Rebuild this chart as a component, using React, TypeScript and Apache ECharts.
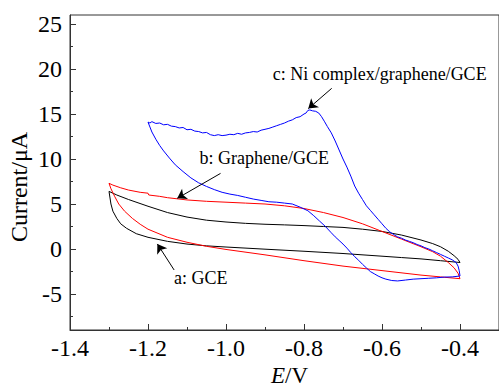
import { useEffect, useRef } from 'react';
import * as echarts from 'echarts';

// a: GCE (black) — forward branch then reverse branch, [E / V, I / µA]
const gceForward = [
  [-1.3, 6.4], [-1.28, 6.0], [-1.25, 5.5], [-1.2, 4.75], [-1.15, 4.05], [-1.1, 3.55], [-1.05, 3.2],
  [-1.0, 3.0], [-0.95, 2.85], [-0.9, 2.75], [-0.85, 2.68], [-0.8, 2.6], [-0.75, 2.5], [-0.7, 2.4],
  [-0.65, 2.2], [-0.6, 1.95], [-0.55, 1.55], [-0.5, 1.0], [-0.47, 0.6], [-0.45, 0.25], [-0.43, -0.25],
  [-0.415, -0.75], [-0.405, -1.15], [-0.4, -1.5],
];
const gceReverse = [
  [-0.4, -1.5], [-0.45, -1.3], [-0.5, -1.1], [-0.55, -0.95], [-0.6, -0.8], [-0.7, -0.5], [-0.8, -0.25],
  [-0.9, -0.02], [-1.0, 0.22], [-1.05, 0.35], [-1.1, 0.55], [-1.15, 0.85], [-1.2, 1.3], [-1.23, 1.7],
  [-1.255, 2.3], [-1.27, 2.8], [-1.28, 3.4], [-1.29, 4.2], [-1.295, 5.0], [-1.3, 6.4],
];

// b: Graphene/GCE (red)
const grapheneForward = [
  [-1.3, 7.3], [-1.29, 7.1], [-1.27, 6.8], [-1.25, 6.55], [-1.22, 6.3], [-1.2, 6.2], [-1.198, 6.0],
  [-1.17, 5.85], [-1.15, 5.7], [-1.1, 5.45], [-1.05, 5.3], [-1.0, 5.2], [-0.95, 5.1], [-0.9, 5.0],
  [-0.85, 4.8], [-0.8, 4.5], [-0.75, 4.05], [-0.7, 3.5], [-0.65, 2.8], [-0.6, 1.95], [-0.55, 1.1],
  [-0.5, 0.25], [-0.47, -0.3], [-0.45, -0.8], [-0.43, -1.5], [-0.415, -2.1], [-0.405, -2.7], [-0.4, -3.3],
];
const grapheneReverse = [
  [-0.4, -3.3], [-0.45, -3.1], [-0.5, -2.9], [-0.6, -2.4], [-0.7, -1.9], [-0.8, -1.3], [-0.9, -0.65],
  [-1.0, -0.05], [-1.05, 0.3], [-1.1, 0.75], [-1.15, 1.3], [-1.2, 2.2], [-1.22, 2.75], [-1.24, 3.4],
  [-1.26, 4.2], [-1.275, 5.0], [-1.285, 5.8], [-1.295, 6.7], [-1.3, 7.3],
];

// c: Ni complex/graphene/GCE (blue)
const niForward = [
  [-1.2, 14.1], [-1.195, 14.0], [-1.19, 14.15], [-1.18, 13.95], [-1.17, 14.0], [-1.16, 13.8],
  [-1.15, 13.85], [-1.14, 13.65], [-1.13, 13.6], [-1.12, 13.45], [-1.11, 13.5], [-1.1, 13.25],
  [-1.09, 13.3], [-1.08, 13.1], [-1.07, 13.05], [-1.06, 12.9], [-1.05, 12.95], [-1.04, 12.7],
  [-1.03, 12.6], [-1.02, 12.7], [-1.01, 12.6], [-1.0, 12.65], [-0.99, 12.75], [-0.98, 12.7],
  [-0.97, 12.85], [-0.96, 12.75], [-0.95, 12.9], [-0.94, 12.95], [-0.93, 13.05], [-0.92, 13.0],
  [-0.91, 13.2], [-0.9, 13.3], [-0.89, 13.4], [-0.88, 13.55], [-0.87, 13.7], [-0.86, 13.85],
  [-0.85, 14.0], [-0.84, 14.2], [-0.83, 14.35], [-0.82, 14.6], [-0.81, 14.7], [-0.8, 15.0],
  [-0.795, 15.1], [-0.79, 15.4], [-0.785, 15.45], [-0.778, 15.35], [-0.77, 15.3], [-0.762, 15.1],
  [-0.755, 14.7], [-0.748, 14.2], [-0.74, 13.6], [-0.73, 12.9], [-0.72, 12.0], [-0.71, 11.0],
  [-0.7, 10.0], [-0.69, 9.1], [-0.68, 8.1], [-0.67, 7.0], [-0.66, 6.2], [-0.65, 5.5], [-0.64, 4.8],
  [-0.63, 4.3], [-0.62, 3.8], [-0.61, 3.3], [-0.6, 2.8], [-0.59, 2.3], [-0.58, 1.9], [-0.57, 1.6],
  [-0.56, 1.35], [-0.55, 1.2], [-0.54, 1.0], [-0.53, 0.85], [-0.52, 0.7], [-0.51, 0.5], [-0.5, 0.35],
  [-0.49, 0.15], [-0.48, 0.0], [-0.47, -0.2], [-0.46, -0.4], [-0.45, -0.6], [-0.44, -0.8],
  [-0.43, -1.0], [-0.42, -1.2], [-0.41, -1.5], [-0.405, -1.9], [-0.402, -2.4], [-0.4, -3.0],
];
const niReverse = [
  [-0.4, -3.0], [-0.42, -3.1], [-0.44, -3.12], [-0.46, -3.2], [-0.48, -3.25], [-0.5, -3.3],
  [-0.52, -3.35], [-0.54, -3.45], [-0.56, -3.55], [-0.575, -3.5], [-0.59, -3.35], [-0.6, -3.2],
  [-0.61, -3.0], [-0.62, -2.75], [-0.63, -2.5], [-0.64, -2.1], [-0.65, -1.7], [-0.66, -1.25],
  [-0.67, -0.85], [-0.68, -0.4], [-0.69, 0.1], [-0.7, 0.55], [-0.71, 0.95], [-0.72, 1.35],
  [-0.73, 1.8], [-0.745, 2.5], [-0.76, 3.1], [-0.775, 3.7], [-0.79, 4.25], [-0.81, 4.65],
  [-0.83, 5.0], [-0.85, 5.1], [-0.87, 5.2], [-0.89, 5.25], [-0.91, 5.4], [-0.93, 5.55],
  [-0.95, 5.75], [-0.97, 5.95], [-0.99, 6.1], [-1.01, 6.3], [-1.03, 6.6], [-1.05, 6.95],
  [-1.07, 7.35], [-1.09, 7.9], [-1.11, 8.6], [-1.13, 9.35], [-1.145, 10.1], [-1.16, 10.9],
  [-1.17, 11.5], [-1.18, 12.2], [-1.19, 13.0], [-1.2, 14.1],
];

const xMajorTicks = [-1.4, -1.2, -1.0, -0.8, -0.6, -0.4];
const xMinorTicks = [-1.3, -1.1, -0.9, -0.7, -0.5, -0.3];
const yMajorTicks = [-5, 0, 5, 10, 15, 20, 25];
const yMinorTicks = [-7.5, -2.5, 2.5, 7.5, 12.5, 17.5, 22.5];

const labelA = 'a: GCE';
const labelB = 'b: Graphene/GCE';
const labelC = 'c: Ni complex/graphene/GCE';

const FONT = 'Liberation Serif, serif';

export default function App() {
  const ref = useRef<HTMLDivElement>(null);

  useEffect(() => {
    if (!ref.current) return;
    const chart = echarts.init(ref.current, undefined, { renderer: 'svg' });

    const X_MIN = -1.4;
    const X_MAX = -0.3;
    const Y_MIN = -9;
    const Y_MAX = 26;
    const axisColor = '#333';

    const arrow = (from: number[], to: number[]) => ({
      silent: true,
      symbol: ['none', 'arrow'],
      symbolSize: 9,
      label: { show: false },
      lineStyle: { color: '#000', width: 1, type: 'solid' },
      emphasis: { disabled: true },
      data: [[{ coord: from }, { coord: to }]],
    });

    const option: any = {
      animation: false,
      textStyle: { fontFamily: FONT },
      grid: {
        left: 70,
        right: -3,
        top: 15,
        bottom: 57,
        show: true,
        borderColor: axisColor,
        borderWidth: 1,
        backgroundColor: 'transparent',
      },
      xAxis: [
        {
          type: 'value',
          min: X_MIN,
          max: X_MAX,
          position: 'bottom',
          splitLine: { show: false },
          axisLine: { show: true, onZero: false, lineStyle: { color: axisColor, width: 1 } },
          axisTick: { show: true, inside: true, length: 6, customValues: xMajorTicks, lineStyle: { color: axisColor } },
          axisLabel: {
            show: true,
            customValues: xMajorTicks,
            formatter: (v: number) => v.toFixed(1),
            color: '#000',
            fontFamily: FONT,
            fontSize: 24,
            margin: 6,
          },
        },
        {
          type: 'value',
          min: X_MIN,
          max: X_MAX,
          position: 'bottom',
          splitLine: { show: false },
          axisLine: { show: false, onZero: false },
          axisTick: { show: true, inside: true, length: 3, customValues: xMinorTicks, lineStyle: { color: axisColor } },
          axisLabel: { show: false },
        },
      ],
      yAxis: [
        {
          type: 'value',
          min: Y_MIN,
          max: Y_MAX,
          position: 'left',
          splitLine: { show: false },
          axisLine: { show: true, onZero: false, lineStyle: { color: axisColor, width: 1 } },
          axisTick: { show: true, inside: true, length: 6, customValues: yMajorTicks, lineStyle: { color: axisColor } },
          axisLabel: {
            show: true,
            customValues: yMajorTicks,
            formatter: (v: number) => String(v),
            color: '#000',
            fontFamily: FONT,
            fontSize: 24,
            margin: 8,
          },
        },
        {
          type: 'value',
          min: Y_MIN,
          max: Y_MAX,
          position: 'left',
          splitLine: { show: false },
          axisLine: { show: false, onZero: false },
          axisTick: { show: true, inside: true, length: 3, customValues: yMinorTicks, lineStyle: { color: axisColor } },
          axisLabel: { show: false },
        },
      ],
      series: [
        {
          name: labelA,
          type: 'line',
          data: [...gceForward, ...gceReverse],
          showSymbol: false,
          clip: false,
          lineStyle: { color: '#000', width: 1 },
          itemStyle: { color: '#000' },
          markLine: arrow([-1.133, -2.33], [-1.176, 0.56]),
        },
        {
          name: labelB,
          type: 'line',
          data: [...grapheneForward, ...grapheneReverse],
          showSymbol: false,
          clip: false,
          lineStyle: { color: '#ff0000', width: 1 },
          itemStyle: { color: '#ff0000' },
          markLine: arrow([-1.014, 8.4], [-1.125, 5.63]),
        },
        {
          name: labelC,
          type: 'line',
          data: [...niForward, ...niReverse],
          showSymbol: false,
          clip: false,
          lineStyle: { color: '#0000ff', width: 1 },
          itemStyle: { color: '#0000ff' },
          markLine: arrow([-0.729, 17.85], [-0.789, 15.6]),
        },
      ],
    };

    chart.setOption(option);

    const px = (p: number[]) => chart.convertToPixel({ xAxisIndex: 0, yAxisIndex: 0 }, p) as number[];
    const annotations = [
      { text: labelA, at: px([-1.065, -3.22]) },
      { text: labelB, at: px([-0.902, 10.1]) },
      { text: labelC, at: px([-0.606, 19.44]) },
    ];

    chart.setOption({
      graphic: [
        ...annotations.map((a) => ({
          type: 'text',
          x: a.at[0],
          y: a.at[1],
          silent: true,
          style: {
            text: a.text,
            fill: '#000',
            fontFamily: FONT,
            fontSize: 18,
            align: 'center',
            verticalAlign: 'middle',
          },
        })),
        {
          type: 'text',
          x: 18.6,
          y: 187,
          rotation: Math.PI / 2,
          silent: true,
          style: {
            text: 'Current/μA',
            fill: '#000',
            fontFamily: FONT,
            fontSize: 24,
            align: 'center',
            verticalAlign: 'middle',
          },
        },
        {
          type: 'text',
          x: 285,
          y: 375,
          silent: true,
          style: {
            text: 'E',
            fill: '#000',
            fontFamily: FONT,
            fontStyle: 'italic',
            fontSize: 23,
            align: 'right',
            verticalAlign: 'middle',
          },
        },
        {
          type: 'text',
          x: 285,
          y: 375,
          silent: true,
          style: {
            text: '/V',
            fill: '#000',
            fontFamily: FONT,
            fontSize: 23,
            align: 'left',
            verticalAlign: 'middle',
          },
        },
      ],
    });

    return () => chart.dispose();
  }, []);

  return (
    <div
      ref={ref}
      style={{ position: 'fixed', left: 0, top: 0, width: 499, height: 387, background: '#fff' }}
    />
  );
}
